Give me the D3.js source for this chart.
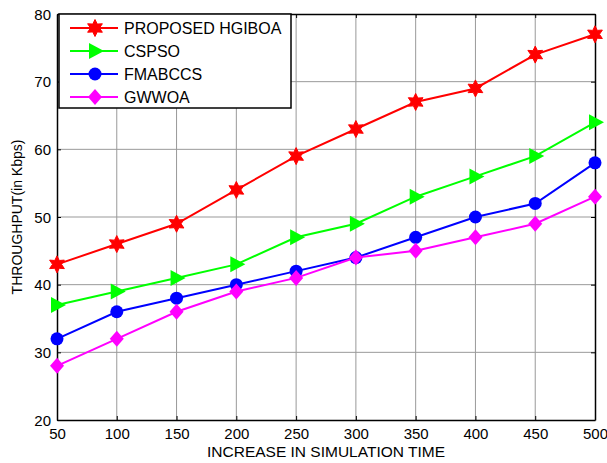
<!DOCTYPE html>
<meta charset="utf-8">
<script src="https://d3js.org/d3.v7.min.js"></script>
<style>
  body { margin: 0; background: #fff; }
  text { font-family: Arial, "Liberation Sans", sans-serif; }
</style>
<div id="my_dataviz"></div>
<script>
  // data
  var xValues = [50, 100, 150, 200, 250, 300, 350, 400, 450, 500];
  var hgiboa = [43, 46, 49, 54, 59, 63, 67, 69, 74, 77];
  var cspso = [37, 39, 41, 43, 47, 49, 53, 56, 59, 64];
  var fmabccs = [32, 36, 38, 40, 42, 44, 47, 50, 52, 58];
  var gwwoa = [28, 32, 36, 39, 41, 44, 45, 47, 49, 53];
  var seriesNames = ["PROPOSED HGIBOA", "CSPSO", "FMABCCS", "GWWOA"];
  var yTicks = [20, 30, 40, 50, 60, 70, 80];

  var series = [
    { name: seriesNames[0], values: hgiboa, color: "#ff0000", marker: "star" },
    { name: seriesNames[1], values: cspso, color: "#00ff00", marker: "triangle" },
    { name: seriesNames[2], values: fmabccs, color: "#0000ff", marker: "circle" },
    { name: seriesNames[3], values: gwwoa, color: "#ff00ff", marker: "diamond" }
  ];

  var margin = { top: 14, right: 12, bottom: 43, left: 57 },
    width = 607 - margin.left - margin.right,
    height = 463 - margin.top - margin.bottom;

  var svg = d3.select("#my_dataviz")
    .append("svg")
    .attr("width", 607)
    .attr("height", 463)
    .append("g")
    .attr("transform", "translate(" + margin.left + "," + margin.top + ")");

  var x = d3.scaleLinear().domain([50, 500]).range([0, width]);
  var y = d3.scaleLinear().domain([20, 80]).range([height, 0]);

  // grid
  svg.append("g")
    .selectAll("line")
    .data(xValues.slice(1, -1))
    .enter().append("line")
    .attr("x1", d => x(d)).attr("x2", d => x(d))
    .attr("y1", 0).attr("y2", height)
    .attr("stroke", "#999").attr("stroke-width", 1);
  svg.append("g")
    .selectAll("line")
    .data(yTicks.slice(1, -1))
    .enter().append("line")
    .attr("x1", 0).attr("x2", width)
    .attr("y1", d => y(d)).attr("y2", d => y(d))
    .attr("stroke", "#999").attr("stroke-width", 1);

  // axes
  var xAxis = svg.append("g")
    .attr("transform", "translate(0," + height + ")")
    .call(d3.axisBottom(x).tickValues(xValues).tickSizeInner(-4).tickSizeOuter(0).tickPadding(8));
  var yAxis = svg.append("g")
    .call(d3.axisLeft(y).tickValues(yTicks).tickSizeInner(-4).tickSizeOuter(0).tickPadding(6));
  var xTop = svg.append("g")
    .call(d3.axisTop(x).tickValues(xValues).tickSizeInner(-4).tickSizeOuter(0).tickFormat(""));
  var yRight = svg.append("g")
    .attr("transform", "translate(" + width + ",0)")
    .call(d3.axisRight(y).tickValues(yTicks).tickSizeInner(-4).tickSizeOuter(0).tickFormat(""));

  [xAxis, yAxis, xTop, yRight].forEach(function(a) {
    a.selectAll(".domain").attr("stroke", "#000").attr("stroke-width", 1.5);
    a.selectAll(".tick line").attr("stroke", "#000");
    a.selectAll("text").style("font-size", "15px").attr("fill", "#000")
      .style("font-family", "Arial, 'Liberation Sans', sans-serif");
  });
  yAxis.selectAll("text").attr("dy", "0.35em");

  // axis labels
  svg.append("text")
    .attr("x", width / 2)
    .attr("y", height + 37)
    .attr("text-anchor", "middle")
    .style("font-size", "15.5px")
    .text("INCREASE IN SIMULATION TIME");
  svg.append("text")
    .attr("transform", "rotate(-90)")
    .attr("x", -height / 2)
    .attr("y", -35)
    .attr("text-anchor", "middle")
    .style("font-size", "14px")
    .text("THROUGHPUT(in Kbps)");

  // marker drawer
  function drawMarker(g, kind, color, cx, cy) {
    if (kind == "star") {
      // six-point star (hexagram)
      var pts = [];
      for (var i = 0; i < 12; i++) {
        var a = Math.PI / 6 * i - Math.PI / 2;
        var r = i % 2 == 0 ? 8.5 : 4.5;
        pts.push([cx + r * Math.cos(a), cy + r * Math.sin(a)]);
      }
      g.append("polygon").attr("points", pts.map(p => p.join(",")).join(" "))
        .attr("fill", color).attr("stroke", color).attr("stroke-width", 1);
    } else if (kind == "triangle") {
      g.append("polygon")
        .attr("points", [[cx - 6, cy - 8], [cx + 9, cy], [cx - 6, cy + 8]].map(p => p.join(",")).join(" "))
        .attr("fill", color);
    } else if (kind == "circle") {
      g.append("circle").attr("cx", cx).attr("cy", cy).attr("r", 6.5).attr("fill", color);
    } else {
      g.append("polygon")
        .attr("points", [[cx, cy - 8], [cx + 7, cy], [cx, cy + 8], [cx - 7, cy]].map(p => p.join(",")).join(" "))
        .attr("fill", color);
    }
  }

  var line = d3.line()
    .x((d, i) => x(xValues[i]))
    .y(d => y(d));

  series.forEach(function(s) {
    var g = svg.append("g");
    g.append("path")
      .datum(s.values)
      .attr("d", line)
      .attr("fill", "none")
      .attr("stroke", s.color)
      .attr("stroke-width", 2);
    s.values.forEach(function(v, i) {
      drawMarker(g, s.marker, s.color, x(xValues[i]), y(v));
    });
  });

  // legend
  var legend = svg.append("g").attr("transform", "translate(2,0)");
  legend.append("rect")
    .attr("x", 0).attr("y", 0)
    .attr("width", 232).attr("height", 94)
    .attr("fill", "#fff")
    .attr("stroke", "#000").attr("stroke-width", 1.5);
  series.forEach(function(s, i) {
    var ly = 14 + i * 23;
    legend.append("line")
      .attr("x1", 11).attr("x2", 59)
      .attr("y1", ly).attr("y2", ly)
      .attr("stroke", s.color).attr("stroke-width", 2);
    drawMarker(legend, s.marker, s.color, 36, ly);
    legend.append("text")
      .attr("x", 65).attr("y", ly)
      .attr("dy", "0.35em")
      .style("font-size", "16px")
      .text(s.name);
  });
</script>
